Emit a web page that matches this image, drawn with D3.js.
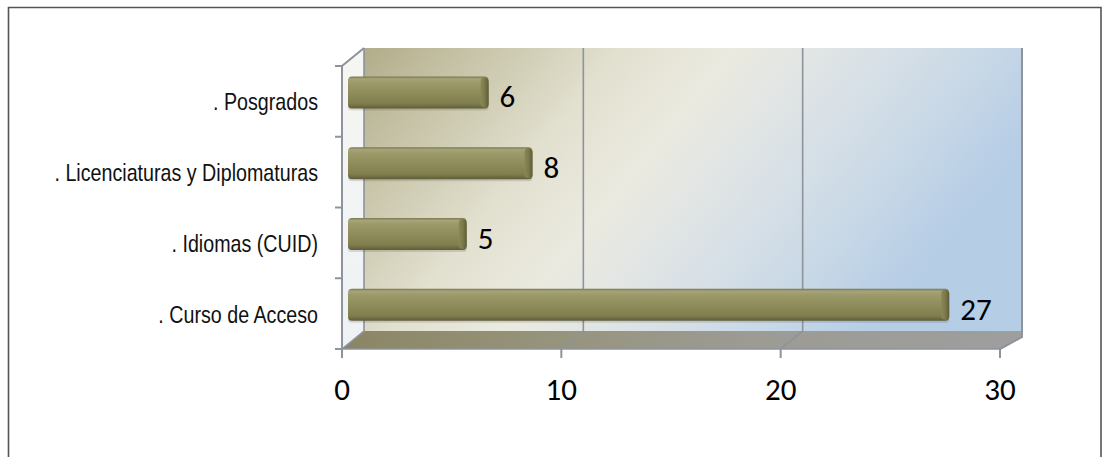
<!DOCTYPE html>
<html>
<head>
<meta charset="utf-8">
<script src="https://cdn.jsdelivr.net/npm/d3@7"></script>
<style>
  body { margin: 0; background: #fff; }
  .catLabel { font-family: 'Liberation Sans', Arial, sans-serif; font-size: 24px; fill: #111; }
  .numLabel { font-family: Carlito, 'Open Sans', sans-serif; font-size: 31px; fill: #000; }
</style>
</head>
<body>
<div id="chart"></div>
<script>
// data
var categories = ['. Posgrados', '. Licenciaturas y Diplomaturas', '. Idiomas (CUID)', '. Curso de Acceso'];
var values = [6, 8, 5, 27];
var xTicks = [0, 10, 20, 30];

var W = 1110, H = 457;
// front edge of the 3d box and depth offset
var front = {left: 342, right: 1000, top: 66, bottom: 349};
var depth = {dx: 22, dy: -18};
var mid = {dx: 11, dy: -9};

var x = d3.scaleLinear().domain([0, 30]).range([front.left, front.right]);
var y = d3.scaleBand().domain(categories).range([front.top, front.bottom]);

var svg = d3.select('#chart')
  .append('svg')
  .attr('width', W)
  .attr('height', H);

var defs = svg.append('defs');

var wallGrad = defs.append('linearGradient').attr('id', 'wall')
  .attr('x1', 0).attr('y1', 0).attr('x2', 1).attr('y2', 0.35);
[[0, '#b1ac89'], [0.12, '#c3bfa2'], [0.35, '#e2e0cf'], [0.5, '#ebeae0'], [0.68, '#dbe2e6'], [0.85, '#c8d8e6'], [1, '#b6cde6']]
  .forEach(function(s) { wallGrad.append('stop').attr('offset', s[0]).attr('stop-color', s[1]); });

var floorGrad = defs.append('linearGradient').attr('id', 'floor')
  .attr('x1', 0).attr('y1', 0).attr('x2', 1).attr('y2', 0);
[[0, '#8a8664'], [0.3, '#96937c'], [0.6, '#9c9b94'], [1, '#9e9e9e']]
  .forEach(function(s) { floorGrad.append('stop').attr('offset', s[0]).attr('stop-color', s[1]); });

var sideGrad = defs.append('linearGradient').attr('id', 'side')
  .attr('x1', 0).attr('y1', 0).attr('x2', 0).attr('y2', 1);
[[0, '#f6f6f2'], [1, '#eef2f6']]
  .forEach(function(s) { sideGrad.append('stop').attr('offset', s[0]).attr('stop-color', s[1]); });

var barGrad = defs.append('linearGradient').attr('id', 'bar')
  .attr('x1', 0).attr('y1', 0).attr('x2', 0).attr('y2', 1);
[[0, '#77754a'], [0.08, '#a6a47a'], [0.2, '#9c9a69'], [0.55, '#8d8b59'], [0.85, '#807e4e'], [1, '#5f5d37']]
  .forEach(function(s) { barGrad.append('stop').attr('offset', s[0]).attr('stop-color', s[1]); });

var capGrad = defs.append('linearGradient').attr('id', 'cap')
  .attr('x1', 0).attr('y1', 0).attr('x2', 1).attr('y2', 0);
[[0, '#8a8857'], [0.5, '#7b7a4b'], [1, '#5e5c38']]
  .forEach(function(s) { capGrad.append('stop').attr('offset', s[0]).attr('stop-color', s[1]); });

// outer frame
svg.append('path')
  .attr('d', 'M8.5,' + H + 'V7.5H1101V' + H)
  .attr('fill', 'none')
  .attr('stroke', '#555')
  .attr('stroke-width', 1.6);

var x0 = x(0), x1 = x(30);
var yb = front.bottom + depth.dy, yt = front.top + depth.dy;

// back wall
svg.append('rect')
  .attr('x', x0 + depth.dx).attr('y', yt)
  .attr('width', x1 - x0).attr('height', yb - yt)
  .attr('fill', 'url(#wall)');

// side wall
svg.append('polygon')
  .attr('points', [[x0, front.top], [x0 + depth.dx, yt], [x0 + depth.dx, yb], [x0, front.bottom]].join(' '))
  .attr('fill', 'url(#side)');

// floor
svg.append('polygon')
  .attr('points', [[x0 + depth.dx, yb], [x1 + depth.dx, yb], [x1 + depth.dx, yb + 6], [x1, front.bottom], [x0, front.bottom]].join(' '))
  .attr('fill', 'url(#floor)');

// right wall edge
svg.append('path')
  .attr('d', 'M' + (x1 + depth.dx) + ',' + yt + 'V' + (yb + 6) + 'L' + x1 + ',' + front.bottom)
  .attr('fill', 'none').attr('stroke', '#8e939c').attr('stroke-width', 2);

// gridlines on wall and floor
svg.selectAll('.grid')
  .data(xTicks.slice(0, 3))
  .enter()
  .append('path')
  .attr('class', 'grid')
  .attr('d', function(d) {
    return 'M' + (x(d) + depth.dx) + ',' + yt + 'V' + yb + 'L' + x(d) + ',' + front.bottom;
  })
  .attr('fill', 'none')
  .attr('stroke', '#8e939c')
  .attr('stroke-width', 1.6);

// left axis line with 3d corner
svg.append('path')
  .attr('d', 'M' + (x0 + depth.dx) + ',' + yt + 'L' + x0 + ',' + front.top + 'V' + (front.bottom + 9))
  .attr('fill', 'none').attr('stroke', '#8e939c').attr('stroke-width', 2);

// category ticks
var yEdges = categories.map(function(c) { return y(c); }).concat([front.bottom]);
svg.selectAll('.ytick')
  .data(yEdges)
  .enter()
  .append('line')
  .attr('x1', x0 - 7).attr('x2', x0)
  .attr('y1', function(d) { return d; }).attr('y2', function(d) { return d; })
  .attr('stroke', '#8e939c').attr('stroke-width', 2);

// bottom axis line and ticks
svg.append('line')
  .attr('x1', x0).attr('x2', x1)
  .attr('y1', front.bottom).attr('y2', front.bottom)
  .attr('stroke', '#8e939c').attr('stroke-width', 1.5);

svg.selectAll('.xtick')
  .data(xTicks)
  .enter()
  .append('line')
  .attr('x1', function(d) { return x(d); }).attr('x2', function(d) { return x(d); })
  .attr('y1', front.bottom).attr('y2', front.bottom + 9)
  .attr('stroke', '#8e939c').attr('stroke-width', 2);

svg.selectAll('.xlabel')
  .data(xTicks)
  .enter()
  .append('text')
  .attr('class', 'numLabel')
  .attr('x', function(d) { return x(d); })
  .attr('y', 400)
  .attr('text-anchor', 'middle')
  .text(function(d) { return d; });

// bars
var barH = 32;
var bars = svg.selectAll('.bar')
  .data(categories)
  .enter()
  .append('g')
  .attr('class', 'bar');

bars.append('rect')
  .attr('x', function(d) { return x(0) + mid.dx - 5; })
  .attr('y', function(d) { return y(d) + y.bandwidth() / 2 + mid.dy - barH / 2 + 2; })
  .attr('width', function(d, i) { return x(values[i]) - x(0) + 9; })
  .attr('height', barH)
  .attr('rx', 3)
  .attr('fill', 'rgba(0,0,0,0.12)');

bars.append('rect')
  .attr('x', function(d) { return x(0) + mid.dx - 5; })
  .attr('y', function(d) { return y(d) + y.bandwidth() / 2 + mid.dy - barH / 2; })
  .attr('width', function(d, i) { return x(values[i]) - x(0) + 9; })
  .attr('height', barH)
  .attr('rx', 4)
  .attr('fill', 'url(#bar)');

bars.append('rect')
  .attr('x', function(d, i) { return x(values[i]) + mid.dx - 4; })
  .attr('y', function(d) { return y(d) + y.bandwidth() / 2 + mid.dy - barH / 2 + 1; })
  .attr('width', 8)
  .attr('height', barH - 2)
  .attr('rx', 4)
  .attr('fill', 'url(#cap)');

// value labels
svg.selectAll('.valLabel')
  .data(categories)
  .enter()
  .append('text')
  .attr('class', 'numLabel')
  .attr('x', function(d, i) { return x(values[i]) + mid.dx + 15; })
  .attr('y', function(d) { return y(d) + y.bandwidth() / 2 + 6; })
  .text(function(d, i) { return values[i]; });

// category labels (condensed like Arial Narrow)
svg.selectAll('.catLabel')
  .data(categories)
  .enter()
  .append('text')
  .attr('class', 'catLabel')
  .attr('transform', function(d) {
    return 'translate(318,' + (y(d) + y.bandwidth() / 2 + 9) + ') scale(0.82,1)';
  })
  .attr('text-anchor', 'end')
  .text(function(d) { return d; });
</script>
</body>
</html>
